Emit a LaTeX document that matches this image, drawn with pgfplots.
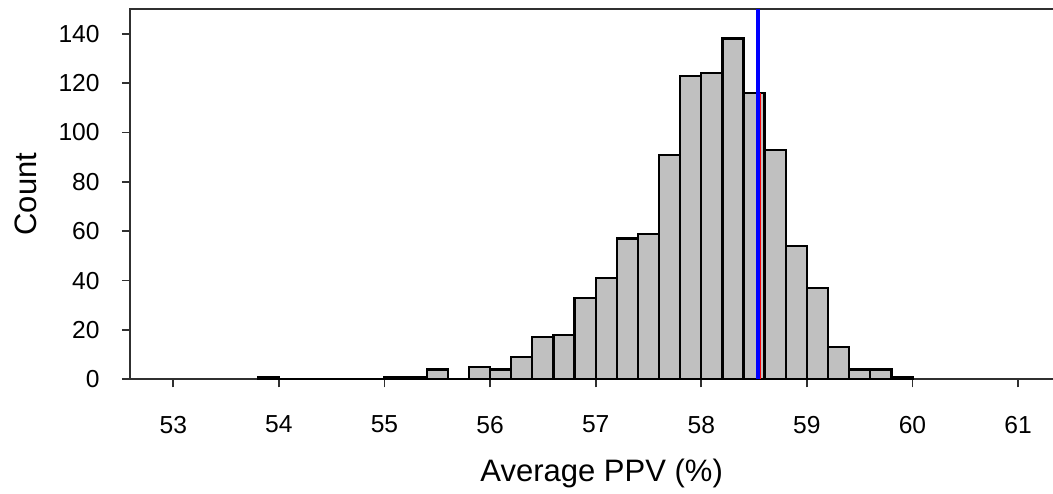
\documentclass[border=0pt]{standalone}
\usepackage{pgfplots}
\pgfplotsset{compat=1.18}
\usepackage{fontspec}
\setmainfont{Liberation Sans}

\definecolor{barfill}{HTML}{C0C0C0}
\definecolor{frame}{HTML}{303030}

\begin{document}
\begin{tikzpicture}
\begin{axis}[
  at={(0,0)}, anchor=south west,
  scale only axis,
  width=467pt, height=185.15pt,
  xmin=52.59, xmax=61.435,
  ymin=0, ymax=150,
  xtick={53,54,...,61},
  ytick={0,20,...,140},
  tick pos=left,
  tick align=outside,
  major tick length=4pt,
  axis line style={frame, line width=0.9pt},
  every tick/.style={frame, line width=0.9pt},
  /pgf/number format/assume math mode=true,
  ticklabel style={font=\fontsize{12.3}{14}\selectfont, inner sep=0pt},
  xticklabel style={anchor=north, yshift=-14.1pt},
  yticklabel style={anchor=east, xshift=-11pt},
  xlabel={Average PPV (\%)},
  ylabel={Count},
  label style={font=\fontsize{15.5}{18}\selectfont, inner sep=0pt},
  xlabel style={at={(axis description cs:0.505,-0.2765)}, anchor=base},
  ylabel style={at={(axis description cs:-0.0998,0.5)}, anchor=base},
  clip=true,
]
% histogram of the averages, bins of width 0.2 (left edges)
\addplot[ybar interval, fill=barfill, draw=black, line width=1.15pt]
  coordinates {
    (53.8,1) (54.0,0) (54.2,0) (54.4,0) (54.6,0) (54.8,0)
    (55.0,1) (55.2,1) (55.4,4) (55.6,0) (55.8,5) (56.0,4)
    (56.2,9) (56.4,17) (56.6,18) (56.8,33) (57.0,41) (57.2,57)
    (57.4,59) (57.6,91) (57.8,123) (58.0,124) (58.2,138) (58.4,116)
    (58.6,93) (58.8,54) (59.0,37) (59.2,13) (59.4,4) (59.6,4)
    (59.8,1) (60.0,1)
  };
% reference values
\addplot[red, line width=1pt] coordinates {(58.556,0) (58.556,116)};
\addplot[blue, line width=1.7pt] coordinates {(58.537,0) (58.537,150)};
\end{axis}
\pgfresetboundingbox
\path[use as bounding box] (-65pt,-56.85pt) rectangle (461.5pt,189.65pt);
\end{tikzpicture}
\end{document}
